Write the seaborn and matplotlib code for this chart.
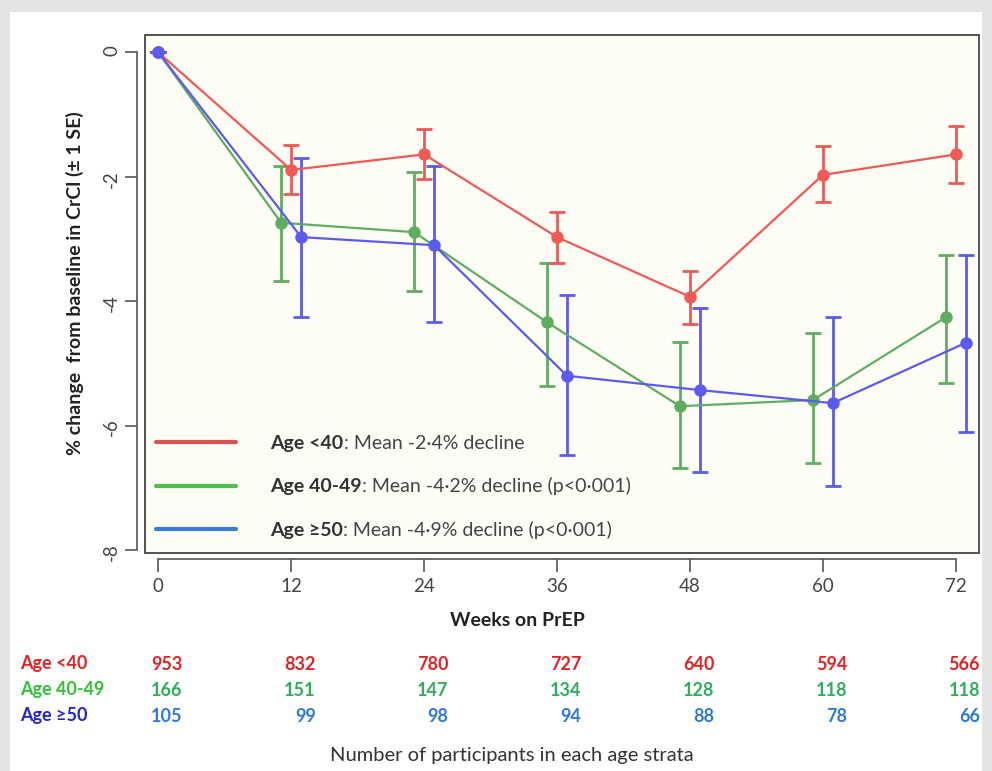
import matplotlib
matplotlib.use("Agg")
import matplotlib.pyplot as plt
import matplotlib.transforms as mtrans
from matplotlib.patches import Rectangle
from matplotlib.lines import Line2D
import numpy as np
import pandas as pd
import seaborn as sns

# data
weeks = [0, 12, 24, 36, 48, 60, 72]
groups = ["Age <40", "Age 40-49", "Age \u226550"]

mean_lt40 = [0, -1.89, -1.64, -2.97, -3.93, -1.97, -1.64]
lo_lt40 = [0, -2.28, -2.03, -3.39, -4.36, -2.41, -2.10]
hi_lt40 = [0, -1.49, -1.23, -2.57, -3.52, -1.51, -1.18]

mean_4049 = [0, -2.74, -2.89, -4.34, -5.69, -5.59, -4.26]
lo_4049 = [0, -3.67, -3.84, -5.36, -6.69, -6.61, -5.31]
hi_4049 = [0, -1.82, -1.93, -3.38, -4.66, -4.52, -3.25]

mean_ge50 = [0, -2.97, -3.10, -5.20, -5.43, -5.64, -4.67]
lo_ge50 = [0, -4.25, -4.34, -6.48, -6.74, -6.98, -6.11]
hi_ge50 = [0, -1.70, -1.82, -3.90, -4.11, -4.26, -3.25]

n_lt40 = [953, 832, 780, 727, 640, 594, 566]
n_4049 = [166, 151, 147, 134, 128, 118, 118]
n_ge50 = [105, 99, 98, 94, 88, 78, 66]

legend_rest = [": Mean -2\u00b74% decline",
               ": Mean -4\u00b72% decline (p<0\u00b7001)",
               ": Mean -4\u00b79% decline (p<0\u00b7001)"]

line_colors = {"Age <40": "#ee5a55", "Age 40-49": "#5fae5f", "Age \u226550": "#5b5bf0"}
legend_colors = ["#d9534f", "#4cbf4c", "#3b7bd0"]
label_colors = ["#e02424", "#35c035", "#2424cc"]
num_colors = ["#e02424", "#2fae5a", "#2f7ad6"]
dodge = {"Age <40": 0.0, "Age 40-49": -0.9, "Age \u226550": 0.9}

sns.set_theme(style="white")
plt.rcParams["font.family"] = ["Lato", "DejaVu Sans"]

rows = []
for g, m, lo, hi in zip(groups, [mean_lt40, mean_4049, mean_ge50],
                        [lo_lt40, lo_4049, lo_ge50], [hi_lt40, hi_4049, hi_ge50]):
    for w, v, l, h in zip(weeks, m, lo, hi):
        rows.append({"group": g, "week": w + (dodge[g] if w > 0 else 0), "val": v, "lo": l, "hi": h})
df = pd.DataFrame(rows)

fig = plt.figure(figsize=(9.92, 7.71), dpi=100)
fig.patch.set_facecolor("#e4e4e4")
fig.patches.append(Rectangle((10 / 992, 0), 972 / 992, 1 - 12 / 771, transform=fig.transFigure,
                             facecolor="white", edgecolor="none", zorder=-5))

ax = fig.add_axes([145 / 992, 1 - 553 / 771, (979 - 145) / 992, (553 - 35) / 771])
ax.set_facecolor("#fdfdf6")

# error bars first, then lines/points on top; blue drawn last
for g in [groups[1], groups[0], groups[2]]:
    d = df[df.group == g]
    ax.errorbar(d.week.values, d.val.values, yerr=[(d.val - d.lo).values, (d.hi - d.val).values],
                fmt="none", ecolor=line_colors[g], elinewidth=2, capsize=6, capthick=2, zorder=2)

sns.lineplot(data=df, x="week", y="val", hue="group", hue_order=[groups[1], groups[0], groups[2]],
             palette=line_colors, marker="o", markersize=9, markeredgewidth=0,
             linewidth=1.6, ax=ax, legend=False, zorder=3, estimator=None, sort=False)

ax.set_xlim(-1.2, 74.1)
ax.set_ylim(-8.05, 0.28)
ax.set_xticks(weeks)
ax.set_yticks([0, -2, -4, -6, -8])
ax.set_yticklabels(["0", "-2", "-4", "-6", "-8"])
ax.set_xlabel("")
ax.set_ylabel("")
ax.tick_params(axis="both", direction="out", length=9, width=1.2, colors="#555555",
               labelsize=13.5, labelcolor="#444444", pad=5)
ax.tick_params(axis="x", bottom=True)
ax.tick_params(axis="y", left=True, labelrotation=90, pad=3)
for t in ax.get_yticklabels():
    t.set_va("center")

for s in ["top", "right"]:
    ax.spines[s].set_visible(False)
ax.spines["bottom"].set_position(("outward", 4))
ax.spines["left"].set_position(("outward", 6))
ax.spines["bottom"].set_bounds(0, 72)
ax.spines["left"].set_bounds(-8, 0)
for s in ["bottom", "left"]:
    ax.spines[s].set_color("#555555")
    ax.spines[s].set_linewidth(1.2)
ax.add_patch(Rectangle((0, 0), 1, 1, transform=ax.transAxes, fill=False,
                       edgecolor="#444444", linewidth=1.3, zorder=5, clip_on=False))

handles = [Line2D([], [], color=c, linewidth=3) for c in legend_colors]
leg = ax.legend(handles, groups, loc="lower left", bbox_to_anchor=(-0.008, -0.006),
                frameon=False, prop={"size": 14, "weight": "bold"}, handlelength=4.1,
                handletextpad=1.8, labelspacing=1.35, labelcolor="#333333")

# regular-weight remainder of each legend entry, placed right after the bold part
fig.canvas.draw()
inv = fig.transFigure.inverted()
for t, rest in zip(leg.get_texts(), legend_rest):
    bb = t.get_window_extent()
    x1, y0 = inv.transform((bb.x1, bb.y0))
    fig.text(x1, y0, rest, ha="left", va="bottom", fontsize=14, color="#444444")

fig.text(517 / 992, 1 - 621 / 771, "Weeks on PrEP", ha="center", va="center",
         fontsize=14, fontweight="bold", color="#222222")
fig.text(75 / 992, 1 - 283 / 771, "% change  from baseline in CrCl (\u00b1 1 SE)", rotation=90,
         ha="center", va="center", fontsize=14, fontweight="bold", color="#222222")

# participant counts table
trans = mtrans.blended_transform_factory(ax.transData, fig.transFigure)
row_y = [664, 690, 716]
for label, counts, y, lc, nc in zip(groups, [n_lt40, n_4049, n_ge50], row_y, label_colors, num_colors):
    fig.text(20 / 992, 1 - y / 771, label, ha="left", va="center", fontsize=13,
             fontweight="bold", color=lc)
    for w, n in zip(weeks, counts):
        ax.text(w + 2.2, 1 - y / 771, str(n), transform=trans, ha="right", va="center",
                fontsize=13, fontweight="bold", color=nc, clip_on=False)

fig.text(512 / 992, 1 - 755 / 771, "Number of participants in each age strata", ha="center",
         va="center", fontsize=14.5, color="#333333")

fig.savefig("out.png", dpi=100, facecolor=fig.get_facecolor())
